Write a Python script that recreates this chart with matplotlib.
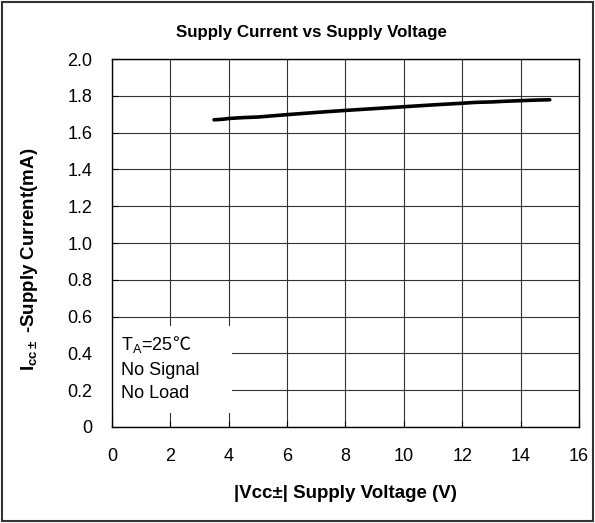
import matplotlib
matplotlib.use("Agg")
import matplotlib.pyplot as plt
from matplotlib.patches import Rectangle

plt.rcParams['font.family'] = ['Liberation Sans', 'DejaVu Sans']
plt.rcParams['mathtext.fontset'] = 'custom'
plt.rcParams['mathtext.rm'] = 'Liberation Sans'
plt.rcParams['mathtext.bf'] = 'Liberation Sans:bold'

# supply voltage (V) and supply current (mA)
vcc = [3.5, 3.8, 4.0, 4.5, 5.0, 6.0, 7.0, 8.0, 9.0, 10.0, 11.0, 12.0, 12.5, 13.0, 13.5, 14.0, 14.5, 15.0]
icc = [1.670, 1.673, 1.677, 1.682, 1.685, 1.698, 1.710, 1.721, 1.731, 1.741, 1.751, 1.760, 1.765, 1.767, 1.771, 1.774, 1.777, 1.779]

xticks = [0, 2, 4, 6, 8, 10, 12, 14, 16]
yticks = [0, 0.2, 0.4, 0.6, 0.8, 1.0, 1.2, 1.4, 1.6, 1.8, 2.0]
ytick_labels = ['0', '0.2', '0.4', '0.6', '0.8', '1.0', '1.2', '1.4', '1.6', '1.8', '2.0']

fig = plt.figure(figsize=(5.95, 5.23), dpi=100)
ax = fig.add_axes([0.188, 0.1836, 0.785, 0.7034])

# grid drawn by hand so the conditions box can sit on top of it
for x in xticks:
    ax.axvline(x, color='#333333', lw=0.8, zorder=1)
for y in yticks:
    ax.axhline(y, color='#333333', lw=0.8, zorder=1)

ax.plot(vcc, icc, color='black', lw=2.6, solid_capstyle='round', zorder=3)

ax.set_xlim(0, 16)
ax.set_ylim(0, 2.0)
ax.set_xticks(xticks)
ax.set_yticks(yticks)
ax.set_yticklabels(ytick_labels)
ax.tick_params(direction='in', length=4, width=0.8, labelsize=13)
ax.tick_params(axis='x', pad=15)
ax.tick_params(axis='y', pad=14)
for s in ax.spines.values():
    s.set_linewidth(1.0)
    s.set_color('black')

# conditions box
ax.add_patch(Rectangle((0.02, 0.075), 4.08, 0.475, facecolor='white', edgecolor='none', zorder=2))
t1 = ax.text(0.3, 0.443, 'T$_{\\mathregular{A}}$=25', fontsize=13, va='center', ha='left', zorder=4)
ax.text(0.3, 0.308, 'No Signal', fontsize=13, va='center', ha='left', zorder=4)
ax.text(0.3, 0.184, 'No Load', fontsize=13, va='center', ha='left', zorder=4)

# degree sign placed right after the T_A text
r = fig.canvas.get_renderer()
bb = t1.get_window_extent(renderer=r)
x_end = ax.transData.inverted().transform((bb.x1, bb.y0))[0]
ax.text(x_end - 0.02, 0.443, '\u2103', fontsize=13, va='center', ha='left', zorder=4,
        family=['Noto Sans CJK SC', 'DejaVu Sans'], fontweight='light')

fig.text(0.524, 0.937, 'Supply Current vs Supply Voltage', fontsize=12.2, fontweight='bold',
         ha='center', va='center')
fig.text(0.58, 0.057, '|Vcc\u00b1| Supply Voltage (V)', fontsize=13.5, fontweight='bold',
         ha='center', va='center')
fig.text(0.05, 0.505, '$\\mathbf{I_{cc\\pm}}$ -Supply Current(mA)', fontsize=13.5, fontweight='bold',
         rotation=90, ha='center', va='center')

fig.patches.append(Rectangle((0.004, 0.004), 0.992, 0.992, transform=fig.transFigure,
                             fill=False, edgecolor='#333333', lw=1.5))

fig.savefig('out.png', dpi=100)
